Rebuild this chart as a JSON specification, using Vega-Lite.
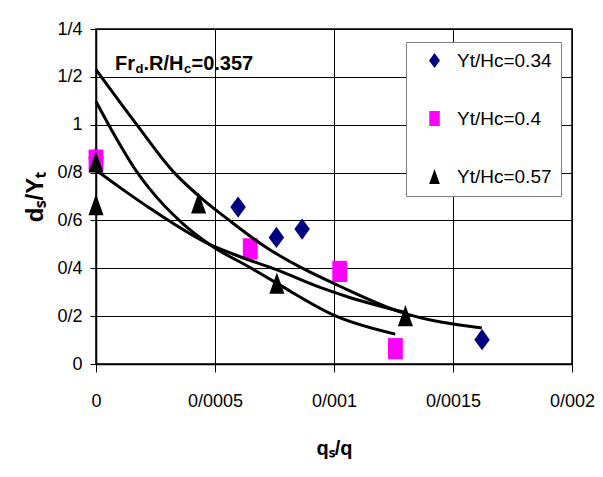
{
  "$schema": "https://vega.github.io/schema/vega-lite/v6.json",
  "width": 476,
  "height": 335,
  "autosize": {"type": "none"},
  "padding": {"left": 96, "top": 29, "right": 31, "bottom": 113},
  "background": "white",
  "config": {
    "view": {"stroke": "black", "strokeWidth": 1.5},
    "font": "Liberation Sans, Arial"
  },
  "datasets": {
    "points": [
      {"q": 0, "d": 0.861, "series": "Yt/Hc=0.34"},
      {"q": 0.000597, "d": 0.656, "series": "Yt/Hc=0.34"},
      {"q": 0.000758, "d": 0.529, "series": "Yt/Hc=0.34"},
      {"q": 0.000866, "d": 0.564, "series": "Yt/Hc=0.34"},
      {"q": 0.001622, "d": 0.1015, "series": "Yt/Hc=0.34"},
      {"q": 0, "d": 0.852, "series": "Yt/Hc=0.4"},
      {"q": 0.000648, "d": 0.481, "series": "Yt/Hc=0.4"},
      {"q": 0.001024, "d": 0.387, "series": "Yt/Hc=0.4"},
      {"q": 0.001258, "d": 0.064, "series": "Yt/Hc=0.4"},
      {"q": 0, "d": 0.845, "series": "Yt/Hc=0.57"},
      {"q": 0, "d": 0.666, "series": "Yt/Hc=0.57"},
      {"q": 0.000431, "d": 0.673, "series": "Yt/Hc=0.57"},
      {"q": 0.00076, "d": 0.338, "series": "Yt/Hc=0.57"},
      {"q": 0.0013, "d": 0.202, "series": "Yt/Hc=0.57"}
    ],
    "curves": [
      {"q": 0, "d": 1.23, "curve": "A"},
      {"q": 0.0001735, "d": 0.997, "curve": "A"},
      {"q": 0.0003235, "d": 0.805, "curve": "A"},
      {"q": 0.000451, "d": 0.686, "curve": "A"},
      {"q": 0.000563, "d": 0.598, "curve": "A"},
      {"q": 0.000689, "d": 0.505, "curve": "A"},
      {"q": 0.001055, "d": 0.311, "curve": "A"},
      {"q": 0.001277, "d": 0.218, "curve": "A"},
      {"q": 0.001621, "d": 0.15, "curve": "A"},
      {"q": 0, "d": 0.81, "curve": "B"},
      {"q": 0.000104, "d": 0.735, "curve": "B"},
      {"q": 0.000228, "d": 0.65, "curve": "B"},
      {"q": 0.00048, "d": 0.4985, "curve": "B"},
      {"q": 0.00062, "d": 0.443, "curve": "B"},
      {"q": 0.000758, "d": 0.394, "curve": "B"},
      {"q": 0.000942, "d": 0.32, "curve": "B"},
      {"q": 0.001069, "d": 0.277, "curve": "B"},
      {"q": 0.0013, "d": 0.215, "curve": "B"},
      {"q": 0, "d": 1.097, "curve": "C"},
      {"q": 0.00007, "d": 0.97, "curve": "C"},
      {"q": 0.000174, "d": 0.8, "curve": "C"},
      {"q": 0.000223, "d": 0.735, "curve": "C"},
      {"q": 0.000361, "d": 0.59, "curve": "C"},
      {"q": 0.000479, "d": 0.4985, "curve": "C"},
      {"q": 0.000651, "d": 0.401, "curve": "C"},
      {"q": 0.000759, "d": 0.338, "curve": "C"},
      {"q": 0.001011, "d": 0.199, "curve": "C"},
      {"q": 0.001257, "d": 0.125, "curve": "C"}
    ],
    "noteMain": [
      {"q": 0.0000798, "d": 1.2298, "t": "Fr"},
      {"q": 0.0001996, "d": 1.2298, "t": ".R/H"},
      {"q": 0.0004013, "d": 1.2298, "t": "=0.357"}
    ],
    "noteSub": [
      {"q": 0.000166, "d": 1.2175, "t": "d"},
      {"q": 0.0003697, "d": 1.2175, "t": "c"}
    ]
  },
  "layer": [
    {
      "data": {"name": "points"},
      "mark": {"type": "point", "filled": true, "opacity": 1, "size": 450, "strokeWidth": 0},
      "encoding": {
        "x": {
          "field": "q", "type": "quantitative",
          "scale": {"domain": [0, 0.002], "nice": false},
          "axis": {
            "values": [0, 0.0005, 0.001, 0.0015, 0.002],
            "labelExpr": "replace(format(datum.value, '~g'), '.', '/')",
            "grid": true, "gridColor": "black", "gridOpacity": 1, "gridWidth": 1,
            "domainColor": "black", "domainWidth": 1.5,
            "tickColor": "black", "tickSize": 8, "tickWidth": 1,
            "labelFontSize": 18, "labelColor": "black", "labelPadding": 20,
            "labelFlush": false,
            "title": "qₛ/q", "titleFontSize": 20, "titleFontWeight": "bold",
            "titleColor": "black", "titlePadding": 28
          }
        },
        "y": {
          "field": "d", "type": "quantitative",
          "scale": {"domain": [0, 1.4], "nice": false},
          "axis": {
            "values": [0, 0.2, 0.4, 0.6, 0.8, 1, 1.2, 1.4],
            "labelExpr": "replace(format(datum.value, '~g'), '.', '/')",
            "grid": true, "gridColor": "black", "gridOpacity": 1, "gridWidth": 1,
            "domainColor": "black", "domainWidth": 1.5,
            "tickColor": "black", "tickSize": 6, "tickWidth": 1,
            "labelFontSize": 18, "labelColor": "black", "labelPadding": 8,
            "labelFlush": false,
            "title": "dₛ/Yₜ", "titleFontSize": 24, "titleFontWeight": "bold",
            "titleColor": "black", "titlePadding": 9
          }
        },
        "shape": {
          "field": "series", "type": "nominal",
          "scale": {
            "domain": ["Yt/Hc=0.34", "Yt/Hc=0.4", "Yt/Hc=0.57"],
            "range": ["M0,-1L0.73,0L0,1L-0.73,0Z", "M-0.7,-1L0.7,-1L0.7,1L-0.7,1Z", "M0,-1L0.71,1L-0.71,1Z"]
          },
          "legend": {
            "orient": "none", "legendX": 310, "legendY": 13, "title": null,
            "fillColor": "white", "strokeColor": "#808080", "padding": 9,
            "rowPadding": 38, "labelFontSize": 19, "labelColor": "black",
            "labelOffset": 13, "symbolOffset": 10, "symbolSize": 225, "symbolStrokeWidth": 0
          }
        },
        "color": {
          "field": "series", "type": "nominal",
          "scale": {
            "domain": ["Yt/Hc=0.34", "Yt/Hc=0.4", "Yt/Hc=0.57"],
            "range": ["#000080", "#FF00FF", "#000000"]
          },
          "legend": {
            "orient": "none", "legendX": 310, "legendY": 13, "title": null,
            "fillColor": "white", "strokeColor": "#808080", "padding": 9,
            "rowPadding": 38, "labelFontSize": 19, "labelColor": "black",
            "labelOffset": 13, "symbolOffset": 10, "symbolSize": 225, "symbolStrokeWidth": 0
          }
        }
      }
    },
    {
      "data": {"name": "curves"},
      "mark": {"type": "line", "color": "black", "strokeWidth": 3, "interpolate": "monotone"},
      "encoding": {
        "x": {"field": "q", "type": "quantitative"},
        "y": {"field": "d", "type": "quantitative"},
        "detail": {"field": "curve", "type": "nominal"},
        "order": {"field": "q", "type": "quantitative"}
      }
    },
    {
      "data": {"name": "noteMain"},
      "mark": {"type": "text", "align": "left", "baseline": "alphabetic", "fontSize": 20, "fontWeight": "bold", "color": "black"},
      "encoding": {
        "x": {"field": "q", "type": "quantitative"},
        "y": {"field": "d", "type": "quantitative"},
        "text": {"field": "t"}
      }
    },
    {
      "data": {"name": "noteSub"},
      "mark": {"type": "text", "align": "left", "baseline": "alphabetic", "fontSize": 13, "fontWeight": "bold", "color": "black"},
      "encoding": {
        "x": {"field": "q", "type": "quantitative"},
        "y": {"field": "d", "type": "quantitative"},
        "text": {"field": "t"}
      }
    }
  ]
}
